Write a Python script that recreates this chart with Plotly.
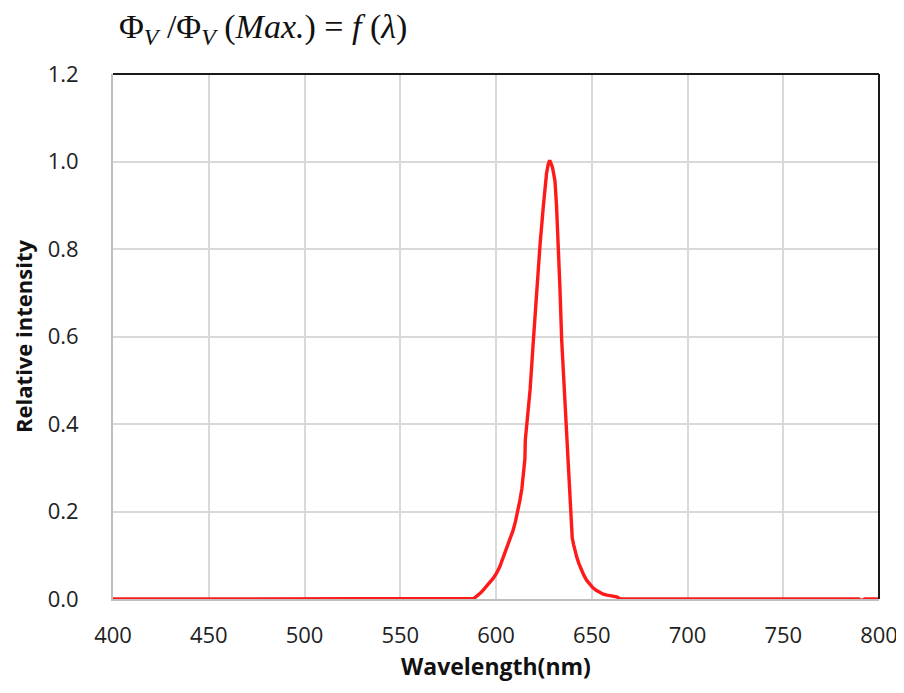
import plotly.graph_objects as go

wavelength = [400, 500, 586.0, 588.2, 589.5, 590.5, 592.0, 593.4, 595.0, 596.5, 598.5, 600.3, 602.0,
              603.5, 605.5, 607.3, 609.0, 610.2, 611.5, 612.5, 613.5, 614.3, 614.9, 615.1, 615.3,
              616.5, 617.8, 619.5, 621.2, 623.0, 624.7, 625.6, 626.4, 627.2, 627.8, 628.3, 628.8,
              629.4, 630.0, 630.8, 631.6, 632.5, 633.4, 634.3, 635.2, 636.0, 636.9, 637.6, 638.2,
              638.8, 639.2, 639.3, 639.8, 640.5, 641.2, 642.1, 643.2, 644.5, 645.8, 647.3, 648.8,
              650.5, 652.3, 654.3, 656.0, 658.0, 660.5, 663.0, 665.0, 700, 789.5, 791.0, 792.5, 800]
intensity = [0.0, 0.0, 0.0, 0.001, 0.005, 0.008, 0.014, 0.021, 0.028, 0.037, 0.047, 0.059, 0.074,
             0.092, 0.112, 0.135, 0.158, 0.178, 0.201, 0.226, 0.252, 0.28, 0.305, 0.32, 0.363,
             0.42, 0.478, 0.59, 0.706, 0.81, 0.897, 0.94, 0.973, 0.992, 1.0, 1.0, 0.996,
             0.988, 0.975, 0.955, 0.9, 0.82, 0.71, 0.592, 0.52, 0.45, 0.363, 0.31, 0.27,
             0.23, 0.196, 0.158, 0.14, 0.125, 0.11, 0.097, 0.082, 0.067, 0.055, 0.043, 0.034,
             0.026, 0.02, 0.014, 0.011, 0.009, 0.007, 0.005, 0.0, 0.0, 0.0, -0.004, 0.0, 0.0]

x_ticks = [400, 450, 500, 550, 600, 650, 700, 750, 800]
y_ticks = [0.0, 0.2, 0.4, 0.6, 0.8, 1.0, 1.2]
x_title = "Wavelength(nm)"
y_title = "Relative intensity"

fig = go.Figure()
fig.add_trace(go.Scatter(x=wavelength, y=intensity, mode="lines",
                         line=dict(color="#ff1a1a", width=3.4),
                         hoverinfo="skip", showlegend=False))

sans = "Open Sans, Liberation Sans, sans-serif"
tickfont = dict(family=sans, size=22, color="#222222")
fig.update_layout(
    width=896, height=677,
    margin=dict(l=105, r=25, t=66, b=86, autoexpand=False),
    paper_bgcolor="white", plot_bgcolor="white",
    xaxis=dict(range=[400, 800], tickvals=x_ticks, ticktext=[str(v) for v in x_ticks],
               showgrid=True, gridcolor="#d9d9d9", gridwidth=2, automargin=False,
               showline=True, linecolor="#bfbfbf", linewidth=2, zeroline=False,
               ticks="", tickfont=tickfont, ticklabelstandoff=16, ticklabeloverflow="allow"),
    yaxis=dict(range=[0, 1.2], tickvals=y_ticks, ticktext=[f"{v:.1f}" for v in y_ticks],
               showgrid=True, gridcolor="#d9d9d9", gridwidth=2, automargin=False,
               showline=True, linecolor="#bfbfbf", linewidth=2, zeroline=False,
               ticks="", tickfont=tickfont, ticklabelstandoff=28, ticklabeloverflow="allow",
               title=dict(text=f"<b>{y_title}</b>", standoff=12,
                          font=dict(family=sans, size=22, color="#111111"))),
    shapes=[
        dict(type="line", xref="paper", yref="paper", x0=0, x1=1, y0=1, y1=1,
             line=dict(color="#1a1a1a", width=2)),
        dict(type="line", xref="paper", yref="paper", x0=1, x1=1, y0=0, y1=1,
             line=dict(color="#1a1a1a", width=2)),
    ],
    annotations=[
        dict(text="Φ<sub><i>V</i></sub> /Φ<sub><i>V</i></sub> (<i>Max.</i>) = <i>f</i> (<i>λ</i>)",
             xref="paper", yref="paper", x=0.005, y=1.0, yshift=22, xanchor="left", yanchor="bottom",
             showarrow=False,
             font=dict(family="Liberation Serif, DejaVu Serif, serif", size=34, color="#111111")),
        dict(text=f"<b>{x_title}</b>", xref="paper", yref="paper", x=0.5, y=0,
             xanchor="center", yanchor="middle", yshift=-67, showarrow=False,
             font=dict(family=sans, size=23, color="#111111")),
    ],
)

fig.write_html("out.html")
